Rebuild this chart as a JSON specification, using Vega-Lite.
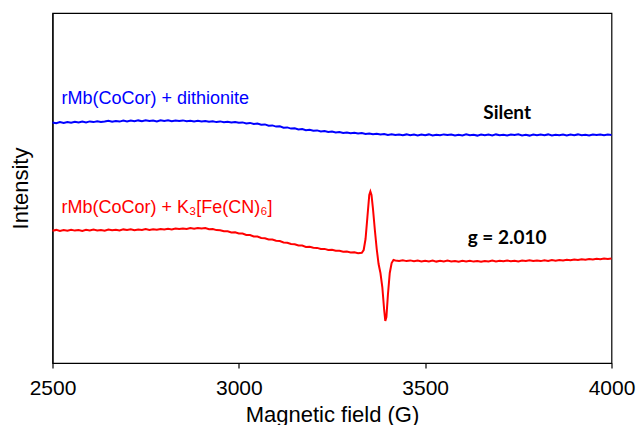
{
  "$schema": "https://vega.github.io/schema/vega-lite/v6.json",
  "width": 559,
  "height": 350,
  "autosize": "none",
  "padding": {"left": 52.5, "top": 13, "right": 24.5, "bottom": 62},
  "background": "white",
  "config": {
    "view": {"stroke": "black", "strokeWidth": 1.2},
    "axis": {"grid": false, "domainColor": "black", "domainWidth": 1.2, "tickColor": "black", "tickWidth": 1.2, "labelColor": "black", "titleColor": "black", "labelFont": "Liberation Sans", "titleFont": "Liberation Sans", "titleFontWeight": "normal"}
  },
  "datasets": {
    "blue": [
      {"f":2500,"i":244.6},{"f":2510,"i":243.8},{"f":2520,"i":244.9},{"f":2530,"i":244.1},{"f":2540,"i":245.0},{"f":2550,"i":244.3},{"f":2560,"i":245.2},{"f":2570,"i":244.5},{"f":2580,"i":245.4},{"f":2590,"i":244.6},
      {"f":2600,"i":245.6},{"f":2610,"i":244.9},{"f":2620,"i":245.8},{"f":2630,"i":245.0},{"f":2640,"i":245.5},{"f":2650,"i":246.3},{"f":2660,"i":245.2},{"f":2670,"i":246.0},{"f":2680,"i":245.4},{"f":2690,"i":246.4},
      {"f":2700,"i":245.6},{"f":2710,"i":246.5},{"f":2720,"i":245.7},{"f":2730,"i":246.6},{"f":2740,"i":245.8},{"f":2750,"i":246.7},{"f":2760,"i":246.0},{"f":2770,"i":246.4},{"f":2780,"i":245.6},{"f":2790,"i":246.8},
      {"f":2800,"i":246.1},{"f":2810,"i":246.7},{"f":2820,"i":245.8},{"f":2830,"i":246.4},{"f":2840,"i":245.9},{"f":2850,"i":246.6},{"f":2860,"i":245.7},{"f":2870,"i":246.3},{"f":2880,"i":245.5},{"f":2890,"i":246.2},
      {"f":2900,"i":245.4},{"f":2910,"i":246.0},{"f":2920,"i":245.2},{"f":2930,"i":245.8},{"f":2940,"i":244.9},{"f":2950,"i":245.6},{"f":2960,"i":244.7},{"f":2970,"i":245.3},{"f":2980,"i":244.5},{"f":2990,"i":245.1},
      {"f":3000,"i":244.3},{"f":3010,"i":244.6},{"f":3020,"i":243.6},{"f":3030,"i":244.1},{"f":3040,"i":243.0},{"f":3050,"i":243.5},{"f":3060,"i":242.3},{"f":3070,"i":242.6},{"f":3080,"i":241.2},{"f":3090,"i":241.6},
      {"f":3100,"i":240.4},{"f":3110,"i":240.7},{"f":3120,"i":239.3},{"f":3130,"i":239.6},{"f":3140,"i":238.4},{"f":3150,"i":238.7},{"f":3160,"i":237.6},{"f":3170,"i":237.9},{"f":3180,"i":236.8},{"f":3190,"i":237.2},
      {"f":3200,"i":236.3},{"f":3210,"i":236.6},{"f":3220,"i":235.5},{"f":3230,"i":236.0},{"f":3240,"i":235.1},{"f":3250,"i":235.4},{"f":3260,"i":234.5},{"f":3270,"i":235.0},{"f":3280,"i":234.1},{"f":3290,"i":234.6},
      {"f":3300,"i":233.8},{"f":3310,"i":234.2},{"f":3320,"i":233.4},{"f":3330,"i":233.9},{"f":3340,"i":233.0},{"f":3350,"i":233.5},{"f":3360,"i":232.7},{"f":3370,"i":233.2},{"f":3380,"i":232.4},{"f":3390,"i":232.9},
      {"f":3400,"i":232.1},{"f":3410,"i":232.7},{"f":3420,"i":231.9},{"f":3430,"i":232.5},{"f":3440,"i":231.8},{"f":3450,"i":232.6},{"f":3460,"i":231.7},{"f":3470,"i":232.4},{"f":3480,"i":231.6},{"f":3490,"i":232.5},
      {"f":3500,"i":231.8},{"f":3510,"i":232.6},{"f":3520,"i":231.5},{"f":3530,"i":232.3},{"f":3540,"i":231.7},{"f":3550,"i":232.6},{"f":3560,"i":231.9},{"f":3570,"i":232.4},{"f":3580,"i":231.5},{"f":3590,"i":232.3},
      {"f":3600,"i":231.6},{"f":3610,"i":232.7},{"f":3620,"i":231.8},{"f":3630,"i":232.2},{"f":3640,"i":231.4},{"f":3650,"i":232.5},{"f":3660,"i":231.7},{"f":3670,"i":232.4},{"f":3680,"i":231.6},{"f":3690,"i":232.6},
      {"f":3700,"i":231.8},{"f":3710,"i":232.3},{"f":3720,"i":231.5},{"f":3730,"i":232.4},{"f":3740,"i":231.9},{"f":3750,"i":232.7},{"f":3760,"i":231.6},{"f":3770,"i":232.2},{"f":3780,"i":231.4},{"f":3790,"i":232.5},
      {"f":3800,"i":231.7},{"f":3810,"i":232.4},{"f":3820,"i":231.8},{"f":3830,"i":232.6},{"f":3840,"i":231.5},{"f":3850,"i":232.3},{"f":3860,"i":231.7},{"f":3870,"i":232.5},{"f":3880,"i":231.6},{"f":3890,"i":232.4},
      {"f":3900,"i":231.8},{"f":3910,"i":232.6},{"f":3920,"i":231.7},{"f":3930,"i":232.3},{"f":3940,"i":231.5},{"f":3950,"i":232.4},{"f":3960,"i":231.9},{"f":3970,"i":232.6},{"f":3980,"i":231.8},{"f":3990,"i":232.5},
      {"f":4000,"i":232.1}
    ],
    "red": [
      {"f":2500,"i":136.3},{"f":2510,"i":137.1},{"f":2520,"i":136.0},{"f":2530,"i":136.9},{"f":2540,"i":136.2},{"f":2550,"i":137.3},{"f":2560,"i":136.4},{"f":2570,"i":137.0},{"f":2580,"i":136.1},{"f":2590,"i":137.2},
      {"f":2600,"i":136.5},{"f":2610,"i":137.4},{"f":2620,"i":136.6},{"f":2630,"i":137.1},{"f":2640,"i":136.3},{"f":2650,"i":137.5},{"f":2660,"i":136.7},{"f":2670,"i":137.3},{"f":2680,"i":136.5},{"f":2690,"i":137.6},
      {"f":2700,"i":136.9},{"f":2710,"i":137.7},{"f":2720,"i":136.8},{"f":2730,"i":137.5},{"f":2740,"i":137.0},{"f":2750,"i":137.9},{"f":2760,"i":137.1},{"f":2770,"i":137.8},{"f":2780,"i":137.2},{"f":2790,"i":138.0},
      {"f":2800,"i":137.4},{"f":2810,"i":138.2},{"f":2820,"i":137.6},{"f":2830,"i":138.5},{"f":2840,"i":137.9},{"f":2850,"i":138.6},{"f":2860,"i":138.1},{"f":2870,"i":138.9},{"f":2880,"i":138.3},{"f":2890,"i":139.1},
      {"f":2900,"i":138.6},{"f":2910,"i":138.9},{"f":2920,"i":137.8},{"f":2930,"i":138.0},{"f":2940,"i":136.9},{"f":2950,"i":136.8},{"f":2960,"i":135.8},{"f":2970,"i":135.7},{"f":2980,"i":134.6},{"f":2990,"i":134.7},
      {"f":3000,"i":133.6},{"f":3010,"i":133.4},{"f":3020,"i":132.0},{"f":3030,"i":131.9},{"f":3040,"i":130.5},{"f":3050,"i":130.4},{"f":3060,"i":129.0},{"f":3070,"i":128.8},{"f":3080,"i":127.5},{"f":3090,"i":127.4},
      {"f":3100,"i":126.2},{"f":3110,"i":126.0},{"f":3120,"i":124.6},{"f":3130,"i":124.3},{"f":3140,"i":123.0},{"f":3150,"i":122.8},{"f":3160,"i":121.5},{"f":3170,"i":121.4},{"f":3180,"i":120.1},{"f":3190,"i":120.2},
      {"f":3200,"i":119.3},{"f":3210,"i":119.1},{"f":3220,"i":118.0},{"f":3230,"i":118.1},{"f":3240,"i":117.0},{"f":3250,"i":117.2},{"f":3260,"i":116.2},{"f":3270,"i":116.3},{"f":3280,"i":115.3},{"f":3290,"i":115.5},
      {"f":3300,"i":114.6},{"f":3310,"i":114.8},{"f":3320,"i":113.8},{"f":3325,"i":114.1},{"f":3330,"i":114.2},{"f":3335,"i":117},{"f":3340,"i":128},{"f":3345,"i":150},{"f":3350,"i":172},{"f":3353,"i":175.5},
      {"f":3356,"i":172},{"f":3360,"i":158},{"f":3365,"i":137},{"f":3370,"i":118},{"f":3375,"i":103},{"f":3380,"i":94},{"f":3385,"i":80},{"f":3390,"i":57},{"f":3393,"i":46},{"f":3396,"i":50},
      {"f":3400,"i":72},{"f":3405,"i":94},{"f":3410,"i":104},{"f":3415,"i":107},{"f":3420,"i":106.5},{"f":3430,"i":106.0},{"f":3440,"i":106.8},{"f":3450,"i":105.9},{"f":3460,"i":106.6},{"f":3470,"i":105.7},
      {"f":3480,"i":106.4},{"f":3490,"i":105.5},{"f":3500,"i":106.3},{"f":3510,"i":105.6},{"f":3520,"i":106.5},{"f":3530,"i":105.4},{"f":3540,"i":106.2},{"f":3550,"i":105.5},{"f":3560,"i":106.4},{"f":3570,"i":105.6},
      {"f":3580,"i":106.1},{"f":3590,"i":105.3},{"f":3600,"i":106.2},{"f":3610,"i":105.5},{"f":3620,"i":106.3},{"f":3630,"i":105.4},{"f":3640,"i":106.0},{"f":3650,"i":105.3},{"f":3660,"i":106.1},{"f":3670,"i":105.6},
      {"f":3680,"i":106.4},{"f":3690,"i":105.5},{"f":3700,"i":106.2},{"f":3710,"i":105.7},{"f":3720,"i":106.5},{"f":3730,"i":105.8},{"f":3740,"i":106.3},{"f":3750,"i":105.6},{"f":3760,"i":106.4},{"f":3770,"i":105.9},
      {"f":3780,"i":106.7},{"f":3790,"i":106.0},{"f":3800,"i":106.6},{"f":3810,"i":105.9},{"f":3820,"i":106.8},{"f":3830,"i":106.1},{"f":3840,"i":106.9},{"f":3850,"i":106.3},{"f":3860,"i":107.0},{"f":3870,"i":106.5},
      {"f":3880,"i":107.3},{"f":3890,"i":106.8},{"f":3900,"i":107.6},{"f":3910,"i":107.0},{"f":3920,"i":107.8},{"f":3930,"i":107.3},{"f":3940,"i":108.0},{"f":3950,"i":107.5},{"f":3960,"i":108.3},{"f":3970,"i":107.7},
      {"f":3980,"i":108.4},{"f":3990,"i":107.9},{"f":4000,"i":108.5}
    ]
  },
  "encoding": {
    "x": {"field": "f", "type": "quantitative", "scale": {"domain": [2500, 4000], "nice": false, "zero": false},
      "axis": {"values": [2500, 3000, 3500, 4000], "title": "Magnetic field (G)", "labelFontSize": 21, "titleFontSize": 22, "tickSize": 5, "labelPadding": 9, "titlePadding": 6, "labelFlush": false, "format": "d"}},
    "y": {"field": "i", "type": "quantitative", "scale": {"domain": [4, 354], "nice": false, "zero": false},
      "axis": {"title": "Intensity", "labels": false, "ticks": false, "titleFontSize": 22, "titlePadding": 20}}
  },
  "layer": [
    {"data": {"name": "blue"}, "mark": {"type": "line", "color": "#0000FF", "strokeWidth": 2}},
    {"data": {"name": "red"}, "mark": {"type": "line", "color": "#FF0000", "strokeWidth": 2}},
    {"data": {"values": [{"f": 2524, "i": 268, "t": "rMb(CoCor) + dithionite"}]},
      "mark": {"type": "text", "align": "left", "baseline": "middle", "font": "Liberation Sans", "fontSize": 18, "color": "#0000FF"},
      "encoding": {"text": {"field": "t"}}},
    {"data": {"values": [{"f": 2524, "i": 159, "t": "rMb(CoCor) + K₃[Fe(CN)₆]"}]},
      "mark": {"type": "text", "align": "left", "baseline": "middle", "font": "Liberation Sans", "fontSize": 18, "color": "#FF0000"},
      "encoding": {"text": {"field": "t"}}},
    {"data": {"values": [{"f": 3720, "i": 254.3, "t": "Silent"}, {"f": 3720, "i": 129, "t": "g = 2.010"}]},
      "mark": {"type": "text", "align": "center", "baseline": "middle", "font": "Lato", "fontWeight": "bold", "fontSize": 19, "color": "black"},
      "encoding": {"text": {"field": "t"}}}
  ]
}
